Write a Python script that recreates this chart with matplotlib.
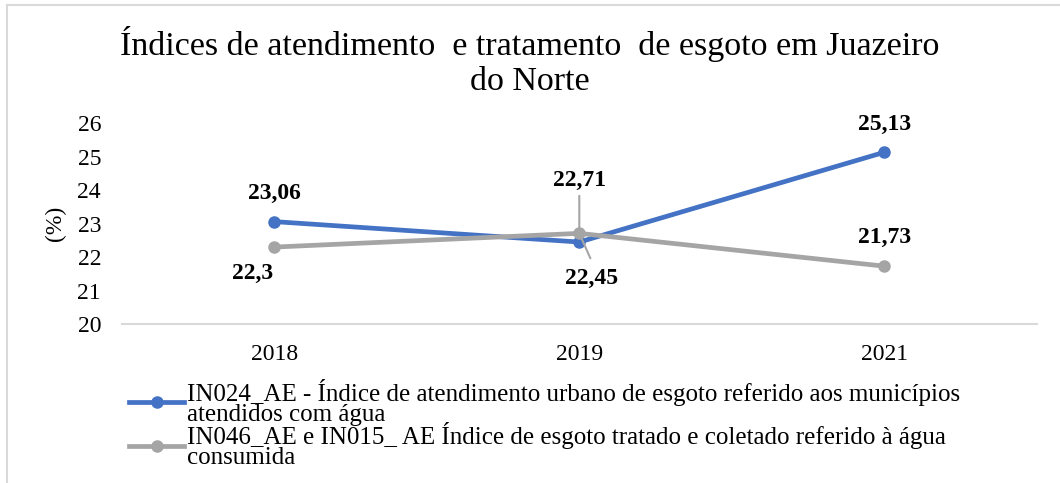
import matplotlib.pyplot as plt
from matplotlib.lines import Line2D

years = ["2018", "2019", "2021"]
atendimento = [23.06, 22.45, 25.13]
tratamento = [22.3, 22.71, 21.73]
label_at = "IN024_AE - Índice de atendimento urbano de esgoto referido aos municípios\natendidos com água"
label_tr = "IN046_AE e IN015_ AE Índice de esgoto tratado e coletado referido à água\nconsumida"

BLUE = "#4472C4"
GRAY = "#A5A5A5"

plt.rcParams["font.family"] = ["Liberation Serif", "DejaVu Serif"]

fig = plt.figure(figsize=(10.6, 4.83), dpi=100)
ax = fig.add_axes([0.115, 0.329, 0.863, 0.416])

x = range(len(years))
ax.plot(x, atendimento, color=BLUE, lw=3.4, marker="o", ms=8, solid_capstyle="round")
ax.plot(x, tratamento, color=GRAY, lw=3.4, marker="o", ms=8, solid_capstyle="round")

ax.set_xlim(-0.5, len(years) - 0.5)
ax.set_ylim(20, 26)
ax.set_yticks(range(20, 27))
ax.set_xticks(list(x))
ax.set_xticklabels(years)
ax.tick_params(length=0, labelsize=17)
ax.tick_params(axis="x", pad=14)
ax.tick_params(axis="y", pad=15)
for s in ["top", "right", "left"]:
    ax.spines[s].set_visible(False)
ax.spines["bottom"].set_color("#D9D9D9")
ax.spines["bottom"].set_linewidth(1.5)
ax.set_ylabel("(%)", fontsize=17, labelpad=8)

lab = dict(fontsize=17, fontweight="bold", ha="center", va="center")
fmt = lambda v: f"{v:g}".replace(".", ",")

# data labels
ax.annotate(fmt(atendimento[0]), (0, atendimento[0]), xytext=(0, 20), textcoords="offset points", **lab)
ax.annotate(fmt(tratamento[0]), (0, tratamento[0]), xytext=(-16, -19), textcoords="offset points", **lab)
ax.annotate(fmt(atendimento[2]), (2, atendimento[2]), xytext=(0, 20), textcoords="offset points", **lab)
ax.annotate(fmt(tratamento[2]), (2, tratamento[2]), xytext=(0, 21), textcoords="offset points", **lab)
ax.annotate(fmt(tratamento[1]), (1, tratamento[1]), xytext=(0, 38), textcoords="offset points", **lab)
ax.annotate(fmt(atendimento[1]), (1, atendimento[1]), xytext=(9, -26), textcoords="offset points", **lab)

# leader lines for the 2019 labels
leader = dict(arrowstyle="-", color=GRAY, lw=1.5, shrinkA=0, shrinkB=4)
ax.annotate("", xy=(1, tratamento[1]), xytext=(0, 27), textcoords="offset points", arrowprops=leader)
ax.annotate("", xy=(1, tratamento[1]), xytext=(8, -18), textcoords="offset points", arrowprops=leader)

fig.text(0.5, 0.872, "Índices de atendimento  e tratamento  de esgoto em Juazeiro\ndo Norte",
         ha="center", va="center", fontsize=24.5, linespacing=1.2)

handles = [Line2D([], [], color=BLUE, lw=3.4, marker="o", ms=8),
           Line2D([], [], color=GRAY, lw=3.4, marker="o", ms=8)]
leg = fig.legend(handles, [label_at, label_tr], loc="upper left", bbox_to_anchor=(0.122, 0.215),
                 frameon=False, fontsize=18, handlelength=2.2, handletextpad=0.1,
                 labelspacing=-0.15, borderpad=0, borderaxespad=0)
for t in leg.get_texts():
    t.set_linespacing(0.88)

fig.add_artist(Line2D([0.0066, 0.0066], [0, 0.99], color="#D9D9D9", lw=1.5))
fig.add_artist(Line2D([0.0066, 1], [0.99, 0.99], color="#D9D9D9", lw=1.5))

fig.savefig("out.png", dpi=100)
